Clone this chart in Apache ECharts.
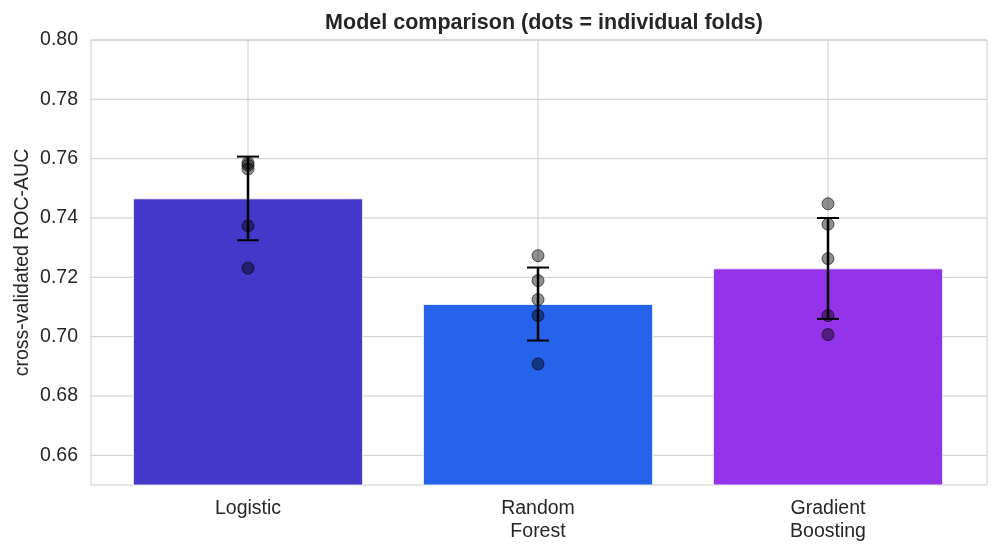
<!DOCTYPE html>
<html>
<head>
<meta charset="utf-8">
<title>Model comparison</title>
<script src="https://cdn.jsdelivr.net/npm/echarts@6/dist/echarts.min.js"></script>
<style>
  html, body { margin: 0; padding: 0; background: #fff; }
  #chart { width: 997px; height: 555px; }
</style>
</head>
<body>
<div id="chart"></div>
<script>
  // data
  var models = ['Logistic', 'Random\nForest', 'Gradient\nBoosting'];
  var meanAuc = [0.7466, 0.7110, 0.7230];
  var stdAuc = [0.0141, 0.0123, 0.0170];
  var barColors = ['#4338CA', '#2563EB', '#9333EA'];
  var foldLogistic = [0.7586, 0.7578, 0.7565, 0.7374, 0.7231];
  var foldForest = [0.7273, 0.7189, 0.7125, 0.7071, 0.6908];
  var foldBoosting = [0.7448, 0.7379, 0.7263, 0.7071, 0.7007];
  var yTicks = [0.66, 0.68, 0.70, 0.72, 0.74, 0.76, 0.78, 0.80];

  var folds = [foldLogistic, foldForest, foldBoosting];
  var foldPoints = [];
  folds.forEach(function (list, i) {
    list.forEach(function (v) { foldPoints.push([i, v]); });
  });
  var errData = meanAuc.map(function (m, i) { return [i, m - stdAuc[i], m + stdAuc[i]]; });
  var barData = meanAuc.map(function (m, i) {
    return { value: m, itemStyle: { color: barColors[i] } };
  });

  var txt = '#262626';
  var gridCol = '#cccccc';
  var font = 'Liberation Sans, Arial, sans-serif';

  var chart = echarts.init(document.getElementById('chart'));
  var option = {
    backgroundColor: '#fff',
    animation: false,
    title: {
      text: 'Model comparison (dots = individual folds)',
      left: 539, top: 7, textAlign: 'center',
      textStyle: { fontFamily: font, fontSize: 21.5, fontWeight: 'bold', color: txt }
    },
    grid: [
      // outer frame, y grid lines and tick labels
      { left: 91, right: 10, top: 40, bottom: 70, show: true, borderColor: gridCol, borderWidth: 1,
        outerBoundsMode: 'none', containLabel: false },
      // inner grid where categories sit (matplotlib margins)
      { left: 103, right: 24, top: 40, bottom: 70, outerBoundsMode: 'none', containLabel: false }
    ],
    xAxis: [
      { gridIndex: 0, type: 'value', min: 0, max: 1, show: false },
      {
        gridIndex: 1, type: 'category', data: models,
        axisLine: { show: false }, axisTick: { show: false }, splitLine: { show: false },
        axisLabel: { fontFamily: font, fontSize: 19.5, color: txt, margin: 12, lineHeight: 23 }
      }
    ],
    yAxis: [
      {
        gridIndex: 0, type: 'value', min: 0.65, max: 0.80,
        name: 'cross-validated ROC-AUC', nameLocation: 'middle', nameGap: 58,
        nameMoveOverlap: false,
        nameTextStyle: { fontFamily: font, fontSize: 19.5, color: txt },
        axisLine: { show: false }, axisTick: { show: false },
        axisLabel: {
          fontFamily: font, fontSize: 19.5, color: txt, margin: 13,
          customValues: yTicks,
          formatter: function (v) { return v.toFixed(2); }
        },
        splitLine: { show: false }
      },
      { gridIndex: 1, type: 'value', min: 0.65, max: 0.80, show: false }
    ],
    series: [
      {
        // horizontal grid lines at the labelled ticks
        type: 'custom', xAxisIndex: 0, yAxisIndex: 0, z: 1, silent: true,
        data: yTicks.map(function (t) { return [0, t]; }),
        renderItem: function (params, api) {
          var y = api.coord([0, api.value(1)])[1];
          var cs = params.coordSys;
          return {
            type: 'line',
            shape: { x1: cs.x, y1: y, x2: cs.x + cs.width, y2: y },
            style: { stroke: gridCol, lineWidth: 1 }
          };
        }
      },
      {
        // vertical grid lines at category centres
        type: 'custom', xAxisIndex: 1, yAxisIndex: 1, z: 1, silent: true,
        data: models.map(function (m, i) { return [i]; }),
        renderItem: function (params, api) {
          var x = api.coord([api.value(0), 0.65])[0];
          var cs = params.coordSys;
          return {
            type: 'line',
            shape: { x1: x, y1: cs.y, x2: x, y2: cs.y + cs.height },
            style: { stroke: gridCol, lineWidth: 1 }
          };
        }
      },
      {
        type: 'bar', xAxisIndex: 1, yAxisIndex: 1, z: 2,
        barWidth: 230, data: barData,
        itemStyle: { borderColor: '#ffffff', borderWidth: 0.8 }
      },
      {
        type: 'custom', xAxisIndex: 1, yAxisIndex: 1, z: 3, silent: true,
        data: errData,
        renderItem: function (params, api) {
          var lo = api.coord([api.value(0), api.value(1)]);
          var hi = api.coord([api.value(0), api.value(2)]);
          var cap = 11;
          var st = { stroke: '#000', lineWidth: 2.5 };
          return {
            type: 'group',
            children: [
              { type: 'line', shape: { x1: lo[0], y1: lo[1], x2: hi[0], y2: hi[1] }, style: st },
              { type: 'line', shape: { x1: lo[0] - cap, y1: lo[1], x2: lo[0] + cap, y2: lo[1] }, style: { stroke: '#000', lineWidth: 2 } },
              { type: 'line', shape: { x1: hi[0] - cap, y1: hi[1], x2: hi[0] + cap, y2: hi[1] }, style: { stroke: '#000', lineWidth: 2 } }
            ]
          };
        }
      },
      {
        type: 'scatter', xAxisIndex: 1, yAxisIndex: 1, z: 4,
        data: foldPoints, symbolSize: 12,
        itemStyle: { color: 'rgba(0,0,0,0.55)', borderColor: 'rgba(0,0,0,0.75)', borderWidth: 1 }
      }
    ]
  };
  chart.setOption(option);
</script>
</body>
</html>
